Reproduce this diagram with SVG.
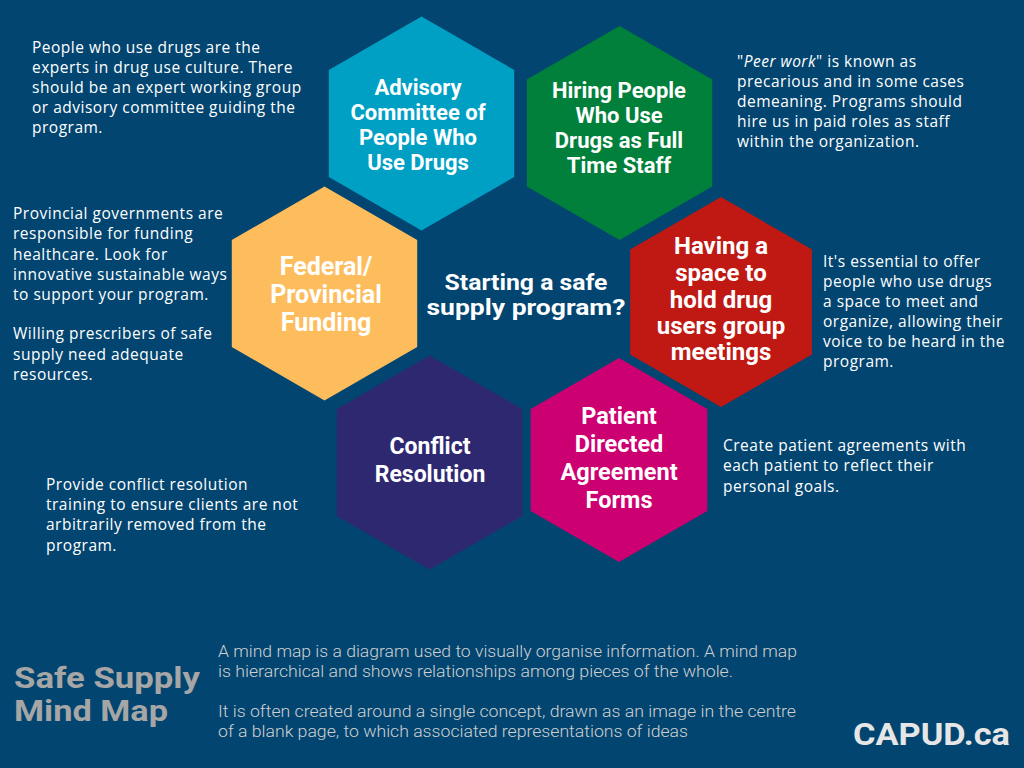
<svg xmlns="http://www.w3.org/2000/svg" width="1024" height="768" viewBox="0 0 1024 768">
<defs>
<style>
.hx{font-family:Roboto,"Liberation Sans",sans-serif;font-weight:700;fill:#ffffff;text-anchor:middle}
.body{font-family:"Open Sans","Liberation Sans",sans-serif;font-size:15.5px;letter-spacing:0.5px;fill:#ffffff}
.foot{font-family:Roboto,"Liberation Sans",sans-serif;font-weight:300;font-size:16px;fill:#d0d0d0}
.title{font-family:Roboto,"Liberation Sans",sans-serif;font-weight:700;font-size:30px;fill:#a6a6a6}
</style>
</defs>
<rect width="1024" height="768" fill="#024570"/>

<g id="advisory">
<polygon points="421.5,16.5 514.2,70 514.2,177 421.5,230.5 328.8,177 328.8,70" fill="#00A0C5"/>
<text class="hx" font-size="22"><tspan x="418" y="95">Advisory</tspan><tspan x="418" y="120">Committee of</tspan><tspan x="418" y="145">People Who</tspan><tspan x="418" y="170">Use Drugs</tspan></text>
</g>

<g id="hiring">
<polygon points="619.5,26 712.2,79.5 712.2,186.5 619.5,240 526.8,186.5 526.8,79.5" fill="#00803A"/>
<text class="hx" font-size="22"><tspan x="619" y="98">Hiring People</tspan><tspan x="619" y="123">Who Use</tspan><tspan x="619" y="148">Drugs as Full</tspan><tspan x="619" y="173">Time Staff</tspan></text>
</g>

<g id="funding">
<polygon points="324.5,186.5 417.2,240 417.2,347 324.5,400.5 231.8,347 231.8,240" fill="#FDBD5D"/>
<text class="hx" font-size="25"><tspan x="326" y="275">Federal/</tspan><tspan x="326" y="303">Provincial</tspan><tspan x="326" y="331">Funding</tspan></text>
</g>

<g id="center">
<text class="hx" font-size="22.5" x="526" y="290" textLength="163" lengthAdjust="spacingAndGlyphs">Starting a safe</text>
<text class="hx" font-size="22.5" x="526" y="315" textLength="199" lengthAdjust="spacingAndGlyphs">supply program?</text>
</g>

<g id="space">
<polygon points="721,197 811.9,249.5 811.9,354.5 721,407 630.1,354.5 630.1,249.5" fill="#C01914"/>
<text class="hx" font-size="24"><tspan x="721" y="254">Having a</tspan><tspan x="721" y="281">space to</tspan><tspan x="721" y="308">hold drug</tspan><tspan x="721" y="334">users group</tspan><tspan x="721" y="360">meetings</tspan></text>
</g>

<g id="conflict">
<polygon points="429.5,355.5 522.2,409 522.2,516 429.5,569.5 336.8,516 336.8,409" fill="#2E2871"/>
<text class="hx" font-size="23"><tspan x="430" y="454">Conflict</tspan><tspan x="430" y="482">Resolution</tspan></text>
</g>

<g id="patient">
<polygon points="619,358 707.3,409 707.3,511 619,562 530.7,511 530.7,409" fill="#CC0070"/>
<text class="hx" font-size="23.5"><tspan x="619" y="424">Patient</tspan><tspan x="619" y="452">Directed</tspan><tspan x="619" y="480">Agreement</tspan><tspan x="619" y="508">Forms</tspan></text>
</g>

<g id="connectors"/>

<g id="notes">
<text class="body"><tspan x="32" y="53">People who use drugs are the</tspan><tspan x="32" y="73">experts in drug use culture. There</tspan><tspan x="32" y="93">should be an expert working group</tspan><tspan x="32" y="113">or advisory committee guiding the</tspan><tspan x="32" y="133">program.</tspan></text>
<text class="body"><tspan x="13" y="219">Provincial governments are</tspan><tspan x="13" y="239">responsible for funding</tspan><tspan x="13" y="260">healthcare. Look for</tspan><tspan x="13" y="280">innovative sustainable ways</tspan><tspan x="13" y="300">to support your program.</tspan><tspan x="13" y="339">Willing prescribers of safe</tspan><tspan x="13" y="360">supply need adequate</tspan><tspan x="13" y="380">resources.</tspan></text>
<text class="body"><tspan x="737" y="67">"<tspan font-style="italic">Peer work</tspan>" is known as</tspan><tspan x="737" y="87">precarious and in some cases</tspan><tspan x="737" y="107">demeaning. Programs should</tspan><tspan x="737" y="127">hire us in paid roles as staff</tspan><tspan x="737" y="147">within the organization.</tspan></text>
<text class="body"><tspan x="823" y="267">It's essential to offer</tspan><tspan x="823" y="287">people who use drugs</tspan><tspan x="823" y="307">a space to meet and</tspan><tspan x="823" y="327">organize, allowing their</tspan><tspan x="823" y="347">voice to be heard in the</tspan><tspan x="823" y="367">program.</tspan></text>
<text class="body"><tspan x="723" y="451">Create patient agreements with</tspan><tspan x="723" y="471">each patient to reflect their</tspan><tspan x="723" y="492">personal goals.</tspan></text>
<text class="body"><tspan x="46" y="490">Provide conflict resolution</tspan><tspan x="46" y="510">training to ensure clients are not</tspan><tspan x="46" y="530">arbitrarily removed from the</tspan><tspan x="46" y="551">program.</tspan></text>
</g>

<g id="footer">
<text class="title" x="14" y="688" textLength="186" lengthAdjust="spacingAndGlyphs">Safe Supply</text>
<text class="title" x="14" y="721" textLength="154" lengthAdjust="spacingAndGlyphs">Mind Map</text>
<text class="foot" x="218" y="657" textLength="579" lengthAdjust="spacingAndGlyphs">A mind map is a diagram used to visually organise information. A mind map</text>
<text class="foot" x="218" y="677" textLength="515" lengthAdjust="spacingAndGlyphs">is hierarchical and shows relationships among pieces of the whole.</text>
<text class="foot" x="218" y="717" textLength="578" lengthAdjust="spacingAndGlyphs">It is often created around a single concept, drawn as an image in the centre</text>
<text class="foot" x="218" y="737" textLength="470" lengthAdjust="spacingAndGlyphs">of a blank page, to which associated representations of ideas</text>
<text x="853" y="745" font-family="Roboto,'Liberation Sans',sans-serif" font-weight="700" font-size="31" fill="#e6e6e6" textLength="157" lengthAdjust="spacingAndGlyphs">CAPUD.ca</text>
</g>
</svg>
